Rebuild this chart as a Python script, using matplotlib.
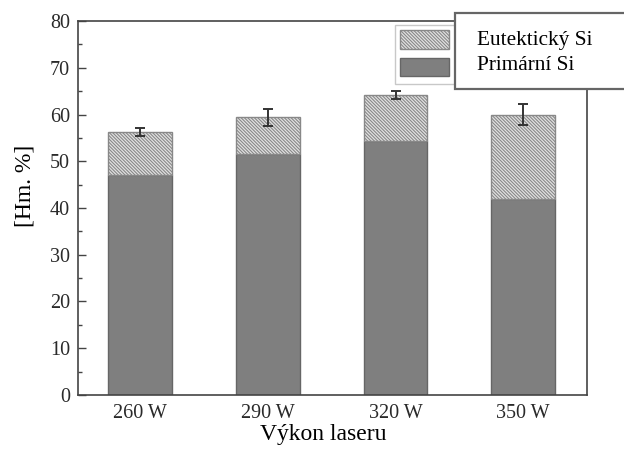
import matplotlib
matplotlib.use('Agg')
import matplotlib.pyplot as plt
from matplotlib.patches import Rectangle
from matplotlib.ticker import MultipleLocator

plt.rcParams['font.family'] = ['Liberation Serif', 'DejaVu Serif']
plt.rcParams['hatch.linewidth'] = 0.8

# data
labels = ['260 W', '290 W', '320 W', '350 W']
primarni = [47.1, 51.6, 54.4, 41.9]
eutekticky = [9.2, 7.8, 9.8, 18.1]
chyba = [0.9, 1.8, 0.9, 2.2]
legend_labels = ['Eutektický Si', 'Primární Si']

fig = plt.figure(figsize=(6.24, 4.49), dpi=100)
ax = fig.add_axes([0.1258, 0.1203, 0.8149, 0.8329])

x = list(range(len(labels)))
celkem = [p + e for p, e in zip(primarni, eutekticky)]

b1 = ax.bar(x, primarni, width=0.5, color='#7f7f7f', edgecolor='#666666', linewidth=1.0)
b2 = ax.bar(x, eutekticky, width=0.5, bottom=primarni, color='#e2e2e2',
            edgecolor='#888888', linewidth=1.0, hatch='\\' * 10)
ax.errorbar(x, celkem, yerr=chyba, fmt='none', ecolor='#333333',
            elinewidth=1.4, capsize=3.5, capthick=1.4, zorder=5)

ax.set_xlim(-0.485, 3.5)
ax.set_ylim(0, 80)
ax.set_xticks(x)
ax.set_xticklabels(labels)
ax.yaxis.set_major_locator(MultipleLocator(10))
ax.yaxis.set_minor_locator(MultipleLocator(5))
ax.tick_params(axis='x', length=0, pad=6.5, labelsize=14.5, labelcolor='#2a2a2a')
ax.tick_params(axis='y', which='major', direction='in', length=6, width=1,
               color='#444444', pad=6, labelsize=14.5, labelcolor='#2a2a2a')
ax.tick_params(axis='y', which='minor', direction='in', length=3, width=1, color='#444444')
for s in ax.spines.values():
    s.set_color('#444444')
    s.set_linewidth(1.2)

ax.set_xlabel('Výkon laseru', fontsize=17)
ax.set_ylabel('[Hm. %]', fontsize=17)
ax.xaxis.set_label_coords(0.481, -0.078)
ax.yaxis.set_label_coords(-0.084, 0.559)

# original legend (swatches only), partly hidden by the label box
leg = ax.legend([b2[0], b1[0]], ['', ''], loc='upper left',
                bbox_to_anchor=(395 / 624, 1 - 25 / 449), bbox_transform=fig.transFigure,
                borderaxespad=0, fontsize=14.4, handlelength=2.45, handleheight=1.05,
                labelspacing=0.33, borderpad=0.25, handletextpad=0.5,
                fancybox=False, framealpha=1, edgecolor='#c8c8c8')

# white label box on top
fig.patches.append(Rectangle((455 / 624, 1 - 89 / 449), 0.3, 76 / 449,
                             transform=fig.transFigure, facecolor='white',
                             edgecolor='#666666', linewidth=1.6, zorder=10))
fig.text(477 / 624, 1 - 45 / 449, legend_labels[0], fontsize=15.3, va='baseline', zorder=11)
fig.text(477 / 624, 1 - 70 / 449, legend_labels[1], fontsize=15.3, va='baseline', zorder=11)

fig.savefig('out.png', dpi=100)
